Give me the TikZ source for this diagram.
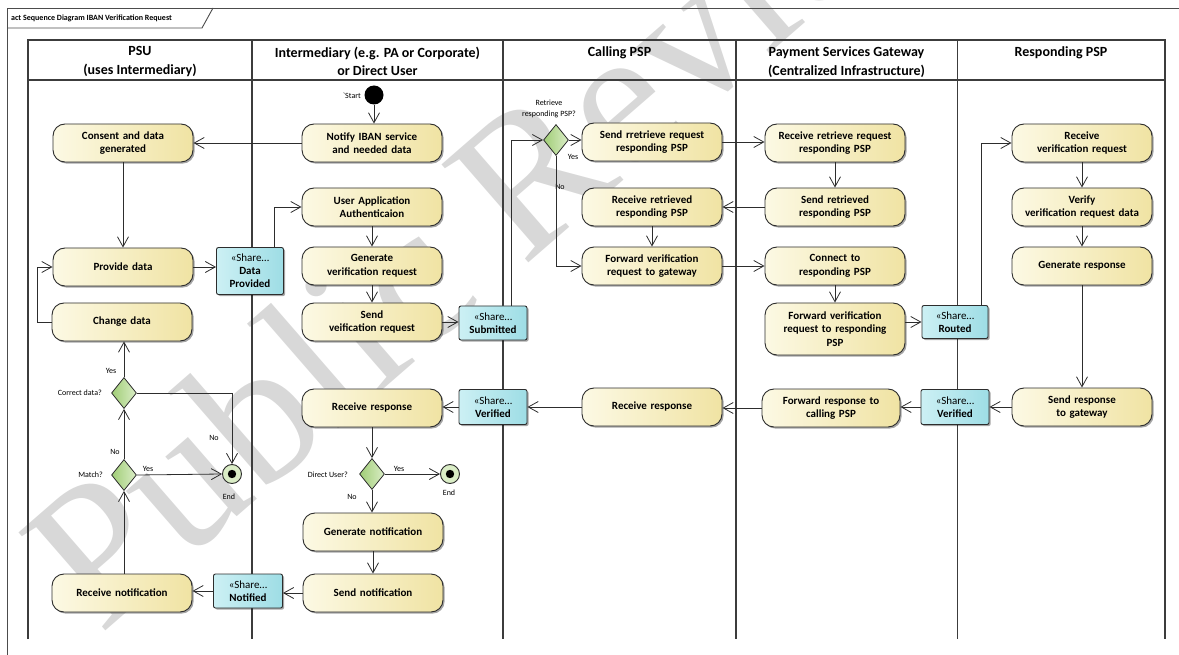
\documentclass[tikz,border=0pt]{standalone}
\usepackage{fontspec}
\setmainfont{Carlito}
\newfontfamily\wmfont{Liberation Serif}
\usetikzlibrary{arrows.meta,shadows,shapes.geometric}
\definecolor{actL}{RGB}{252,249,228}
\definecolor{actR}{RGB}{240,227,163}
\definecolor{objL}{RGB}{204,240,244}
\definecolor{objR}{RGB}{158,221,229}
\definecolor{decL}{RGB}{160,205,118}
\definecolor{decR}{RGB}{218,237,198}
\definecolor{edge}{RGB}{45,45,45}
\definecolor{lane}{RGB}{60,60,60}
\definecolor{wmark}{RGB}{216,216,216}
\begin{document}
\begin{tikzpicture}[x=1pt,y=-1pt,
  shade/.style={drop shadow={shadow xshift=1.6pt,shadow yshift=-1.6pt,fill=black,opacity=.35}},
  action/.style={draw=edge,line width=0.9pt,rounded corners=12pt,left color=actL,right color=actR,
    minimum width=140pt,minimum height=38pt,text width=136pt,align=center,inner sep=1pt,
    font=\fontsize{11}{13.5}\selectfont\bfseries,shade},
  obj/.style={draw=edge,line width=0.9pt,rounded corners=2pt,left color=objL,right color=objR,
    minimum width=68pt,minimum height=34pt,align=center,inner sep=1pt,
    font=\fontsize{11}{13}\selectfont,shade},
  decision/.style={diamond,draw=edge,line width=0.8pt,left color=decL,right color=decR,
    minimum width=25pt,minimum height=31pt,inner sep=0pt},
  finalnode/.style={circle,draw=edge,line width=0.9pt,fill=decR,minimum size=19pt,inner sep=0pt,
    path picture={\fill[black] (path picture bounding box.center) circle (4.2pt);}},
  initnode/.style={circle,fill=black,minimum size=19pt,inner sep=0pt},
  flow/.style={draw=edge,line width=0.8pt,-{Straight Barb[length=10pt,width=11pt]}},
  lbl/.style={font=\fontsize{8}{11}\selectfont,inner sep=0pt,align=center},
  head/.style={font=\fontsize{14}{18.5}\selectfont\bfseries,align=center,anchor=north,inner sep=0pt},
  lanes/.style={draw=lane,line width=1.2pt}
]
\useasboundingbox (0,0) rectangle (1179,655);

% watermark
\node[rotate=41,anchor=base west,text=wmark,inner sep=0pt,
      font=\wmfont\fontsize{200}{200}\selectfont] (wm) at (100,636) {Public Review};

% diagram frame and title tab
\draw[draw=black!70,line width=0.9pt] (7,655) -- (7,8) -- (1179,8);
\draw[draw=black!70,line width=0.9pt] (7,28) -- (202,28) -- (213,8);
\node[anchor=west,inner sep=0pt,font=\fontsize{8}{10}\selectfont\bfseries] (title) at (11,18.5)
  {act Sequence Diagram IBAN Verification Request};

% swimlanes
\draw[lanes] (28,639) -- (28,40) -- (1165,40) -- (1165,639);
\draw[lanes] (28,80) -- (1165,80);
\foreach \lx in {252,503,736,957.5} \draw[lanes] (\lx,40) -- (\lx,639);
\node[head] (hpsu) at (140,46.5) {PSU\\(uses Intermediary)};
\node[head] (hint) at (377.5,46.5) {Intermediary (e.g. PA or Corporate)\\or Direct User};
\node[head] (hcall) at (619.5,46.5) {Calling PSP};
\node[head] (hgw) at (846.5,46.5) {Payment Services Gateway\\(Centralized Infrastructure)};
\node[head] (hresp) at (1061,46.5) {Responding PSP};

% PSU lane
\node[action] (consent) at (123,143) {Consent and data\\generated};
\node[action] (provide) at (123,267) {Provide data};
\node[action] (change) at (122,322) {Change data};
\node[decision] (correct) at (124,393) {};
\node[decision] (match) at (124,475) {};
\node[finalnode] (endP) at (232,474) {};
\node[action] (rcvnot) at (122,593) {Receive notification};

% Intermediary lane
\node[initnode] (start) at (374,95) {};
\node[action] (notify) at (372,143) {Notify IBAN service\\and needed data};
\node[action] (userapp) at (372,207) {User Application\\Authenticaion};
\node[action] (genreq) at (372,266) {Generate\\verification request};
\node[action] (sendreq) at (372,322) {Send\\veification request};
\node[action] (rcvrespI) at (372,408) {Receive response};
\node[decision] (direct) at (372,474) {};
\node[finalnode] (endI) at (450,474) {};
\node[action] (gennot) at (373,532) {Generate notification};
\node[action] (sendnot) at (373,593) {Send notification};

% Calling PSP lane
\node[decision] (retr) at (556,140) {};
\node[action] (sendrr) at (652,142) {Send rretrieve request\\responding PSP};
\node[action] (rcvretr) at (652,207) {Receive retrieved\\responding PSP};
\node[action] (fwdgw) at (652,266) {Forward verification\\request to gateway};
\node[action] (rcvrespC) at (652,407) {Receive response};

% Payment Services Gateway lane
\node[action] (rcvrr) at (835,143) {Receive retrieve request\\responding PSP};
\node[action] (sendretr) at (835,207) {Send retrieved\\responding PSP};
\node[action] (connect) at (835,266) {Connect to\\responding PSP};
\node[action,minimum height=52pt] (fwdresp) at (835,329) {Forward verification\\request to responding\\PSP};
\node[action,minimum width=138pt,text width=134pt] (fwdcall) at (831,408) {Forward response to\\calling PSP};

% Responding PSP lane
\node[action] (rcvvr) at (1082,143) {Receive\\verification request};
\node[action] (verify) at (1082,207) {Verify\\verification request data};
\node[action] (genresp) at (1082,266) {Generate response};
\node[action] (sendresp) at (1082,407) {Send response\\to gateway};

% shared objects
\node[obj,minimum width=67pt,minimum height=47pt] (dp) at (250,271) {«Share…\\\textbf{Data}\\\textbf{Provided}};
\node[obj] (sub) at (493,323) {«Share…\\\textbf{Submitted}};
\node[obj,minimum width=66pt,minimum height=33pt] (routed) at (955,322) {«Share…\\\textbf{Routed}};
\node[obj,minimum height=35pt] (verG) at (955,407) {«Share…\\\textbf{Verified}};
\node[obj,minimum height=35pt] (verC) at (493,407) {«Share…\\\textbf{Verified}};
\node[obj,minimum width=69pt] (notified) at (248,591) {«Share…\\\textbf{Notified}};

% labels
\node[lbl,anchor=east] (lstart) at (361,96) {\textasciigrave Start};
\node[lbl,anchor=east] (lcorrect) at (102,393) {Correct data?};
\node[lbl,anchor=east] (lmatch) at (103,475) {Match?};
\node[lbl,anchor=east] (ldirect) at (348,475) {Direct User?};
\node[lbl] (lretr) at (549,109) {Retrieve\\responding PSP?};
\node[lbl] (lendP) at (229,497) {End};
\node[lbl] (lendI) at (449,493) {End};
\node[lbl] (yes1) at (111,371) {Yes};
\node[lbl] (no1) at (214,438) {No};
\node[lbl] (no2) at (115,452) {No};
\node[lbl] (yes2) at (148,469) {Yes};
\node[lbl] (yes3) at (399,469) {Yes};
\node[lbl] (no3) at (352,497) {No};
\node[lbl] (yes4) at (573,157) {Yes};
\node[lbl] (no4) at (560,187) {No};

% control flows
\draw[flow] (start) -- (start |- notify.north);
\draw[flow] (notify.west) -- (consent.east);
\draw[flow] (consent) -- (provide);
\draw[flow] (provide.east) -- (provide.east -| dp.west);
\draw[flow] ([xshift=-10pt]dp.north east) |- (userapp.west);
\draw[flow] (userapp) -- (genreq);
\draw[flow] (genreq) -- (sendreq);
\draw[flow] (sendreq.east) -- (sendreq.east -| sub.west);
\draw[flow] ([xshift=-16pt]sub.north east) |- (retr.west);
\draw[flow] (retr.east) -- (retr.east -| sendrr.west);
\draw[flow] (retr.south) |- (fwdgw.west);
\draw[flow] (sendrr.east) -- (sendrr.east -| rcvrr.west);
\draw[flow] (rcvrr) -- (sendretr);
\draw[flow] (sendretr.west) -- (rcvretr.east);
\draw[flow] (rcvretr) -- (fwdgw);
\draw[flow] (fwdgw.east) -- (connect.west);
\draw[flow] (connect) -- (connect |- fwdresp.north);
\draw[flow] (fwdresp.east |- routed.west) -- (routed.west);
\draw[flow] ([xshift=-7pt]routed.north east) |- (rcvvr.west);
\draw[flow] (rcvvr) -- (verify);
\draw[flow] (verify) -- (genresp);
\draw[flow] (genresp) -- (sendresp);
\draw[flow] (sendresp.west) -- (verG.east);
\draw[flow] (verG.west) -- (verG.west -| fwdcall.east);
\draw[flow] (fwdcall.west) -- (fwdcall.west -| rcvrespC.east);
\draw[flow] (rcvrespC.west) -- (rcvrespC.west -| verC.east);
\draw[flow] (verC.west) -- (verC.west -| rcvrespI.east);
\draw[flow] (rcvrespI) -- (direct);
\draw[flow] (direct.east) -- (endI.west);
\draw[flow] (direct.south) -- (direct.south |- gennot.north);
\draw[flow] (gennot) -- (sendnot);
\draw[flow] (sendnot.west) -- (sendnot.west -| notified.east);
\draw[flow] (notified.west) -- (notified.west -| rcvnot.east);
\draw[flow] (rcvnot.north -| match) -- (match.south);
\draw[flow] (match.east) -- (endP.west);
\draw[flow] (match.north) -- (correct.south);
\draw[flow] (correct.east) -| (endP.north);
\draw[flow] (correct.north) -- (correct.north |- change.south);
\draw[flow] (change.west) -| ([xshift=-15pt]provide.west) -- (provide.west);
\end{tikzpicture}
\end{document}
